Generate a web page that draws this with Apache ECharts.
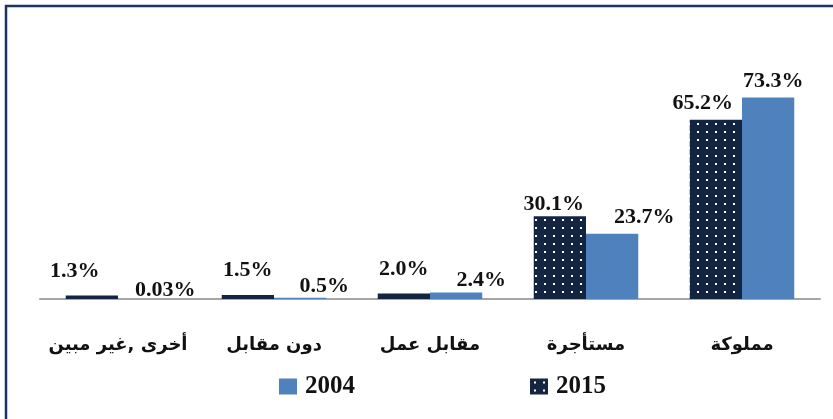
<!DOCTYPE html>
<html><head><meta charset="utf-8">
<script src="https://cdn.jsdelivr.net/npm/echarts@6/dist/echarts.min.js"></script>
<style>html,body{margin:0;padding:0;background:#fff}#c{width:833px;height:419px}</style>
</head><body><div id="c"></div>
<script>
const categories = ['أخرى ,غير مبين', 'دون مقابل', 'مقابل عمل', 'مستأجرة', 'مملوكة'];
const values2015 = [1.3, 1.5, 2.0, 30.1, 65.2];
const labels2015 = ['1.3%', '1.5%', '2.0%', '30.1%', '65.2%'];
const values2004 = [0.03, 0.5, 2.4, 23.7, 73.3];
const labels2004 = ['0.03%', '0.5%', '2.4%', '23.7%', '73.3%'];

// label styling offsets (presentation only)
const shift2015 = [[-17,-8],[0,-9],[0,-8],[-6,4],[-13,0]];
const shift2004 = [[21,7],[24,5],[25,4],[32,-1],[5,0]];

function dotPattern(){
  const c = document.createElement('canvas');
  c.width = 9; c.height = 8;
  const g = c.getContext('2d');
  g.fillStyle = '#132541'; g.fillRect(0,0,9,8);
  g.fillStyle = '#ffffff'; g.fillRect(4,3,2,2);
  return c;
}
const pat = {image: dotPattern(), repeat: 'repeat'};
const labelFont = {fontFamily: '"Liberation Serif","Times New Roman",serif', fontWeight: 'bold', fontSize: 22, color: '#111'};

const chart = echarts.init(document.getElementById('c'), null, {renderer: 'canvas'});
chart.setOption({
  animation: false,
  graphic: [{type: 'rect', shape: {x: 6, y: 6, width: 900, height: 500}, style: {fill: 'none', stroke: '#1b3461', lineWidth: 2.5}, z: 100}],
  grid: {left: 40, right: 13, top: 79, bottom: 120},
  legend: {
    top: 374, left: 279, padding: 0, itemWidth: 18, itemHeight: 16, itemGap: 175,
    data: [{name: '2004', icon: 'rect'}, {name: '2015', icon: 'rect'}],
    textStyle: {fontFamily: '"Liberation Serif","Times New Roman",serif', fontWeight: 'bold', fontSize: 25, color: '#111', padding: [0,0,0,3]}
  },
  xAxis: {
    type: 'category', data: categories,
    axisLine: {lineStyle: {color: '#a6a6a6', width: 2}},
    axisTick: {show: false},
    axisLabel: {interval: 0, margin: 37, fontFamily: '"DejaVu Sans",sans-serif', fontWeight: 'bold', fontSize: 18, color: '#111'}
  },
  yAxis: {type: 'value', min: 0, max: 80, show: false, splitLine: {show: false}},
  series: [
    {
      name: '2015', type: 'bar', barGap: '0%', barCategoryGap: '33%',
      itemStyle: {color: pat},
      data: values2015.map((v,i) => ({value: v, label: {offset: shift2015[i]}})),
      label: Object.assign({show: true, position: 'top', formatter: p => labels2015[p.dataIndex]}, labelFont)
    },
    {
      name: '2004', type: 'bar', barCategoryGap: '33%',
      itemStyle: {color: '#4f81bd'},
      data: values2004.map((v,i) => ({value: v, label: {offset: shift2004[i]}})),
      label: Object.assign({show: true, position: 'top', formatter: p => labels2004[p.dataIndex]}, labelFont)
    }
  ]
});
</script></body></html>
